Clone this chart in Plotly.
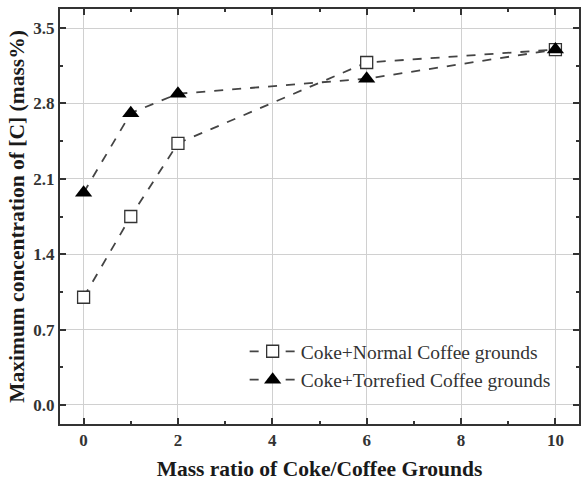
import plotly.graph_objects as go

mass_ratio = [0, 1, 2, 6, 10]
normal_c = [1.00, 1.75, 2.43, 3.18, 3.30]
torrefied_c = [1.97, 2.71, 2.89, 3.03, 3.30]
x_ticks = [0, 2, 4, 6, 8, 10]
y_ticks = [0.0, 0.7, 1.4, 2.1, 2.8, 3.5]
y_tick_text = ["0.0", "0.7", "1.4", "2.1", "2.8", "3.5"]

FONT = "Liberation Serif"
line_col = "#444444"

fig = go.Figure()
fig.add_trace(go.Scatter(
    x=mass_ratio, y=normal_c, mode="lines+markers",
    name="Coke+Normal Coffee grounds",
    line=dict(color=line_col, width=1.8, dash="dash"),
    marker=dict(symbol="square", size=12, color="white",
                line=dict(width=1.3, color="#333333")),
))
fig.add_trace(go.Scatter(
    x=mass_ratio, y=torrefied_c, mode="lines+markers",
    name="Coke+Torrefied Coffee grounds",
    line=dict(color=line_col, width=1.8, dash="dash"),
    marker=dict(symbol="triangle-up", size=15, color="black"),
))

axis_common = dict(
    showline=True, linecolor="#333333", linewidth=2, mirror="ticks",
    ticks="inside", ticklen=6, tickcolor="#333333", tickwidth=1.5,
    showgrid=True, gridcolor="#d0d0d0", gridwidth=1,
    zeroline=False,
    tickfont=dict(family=FONT, size=17, color="#333333"),
)

fig.update_xaxes(
    range=[-0.5, 10.5], tickvals=x_ticks, ticktext=[f"<b>{t}</b>" for t in x_ticks],
    minor=dict(ticks="inside", ticklen=3, tickcolor="#333333", dtick=1, showgrid=False),
    title=dict(text="<b>Mass ratio of Coke/Coffee Grounds</b>",
               font=dict(family=FONT, size=21.5, color="#1a1a1a"), standoff=12),
    automargin=False,
    **axis_common,
)
fig.update_yaxes(
    range=[-0.177, 3.677], tickvals=y_ticks, ticktext=[f"<b>{t}</b>" for t in y_tick_text],
    minor=dict(ticks="inside", ticklen=3, tickcolor="#333333", dtick=0.35, tick0=0, showgrid=False),
    title=dict(text="<b>Maximum concentration of [C] (mass%)</b>",
               font=dict(family=FONT, size=21.5, color="#1a1a1a"), standoff=3),
    automargin=False,
    **axis_common,
)

fig.update_layout(
    width=586, height=482,
    margin=dict(l=60, r=7, t=9, b=58),
    plot_bgcolor="white", paper_bgcolor="white",
    font=dict(family=FONT, color="#222222"),
    legend=dict(x=0.955, xanchor="right", y=0.06, yanchor="bottom",
                bgcolor="rgba(255,255,255,0)", borderwidth=0,
                font=dict(family=FONT, size=19.5, color="#333333"),
                tracegroupgap=0, itemwidth=46),
    showlegend=True,
)

fig.write_html("out.html")
